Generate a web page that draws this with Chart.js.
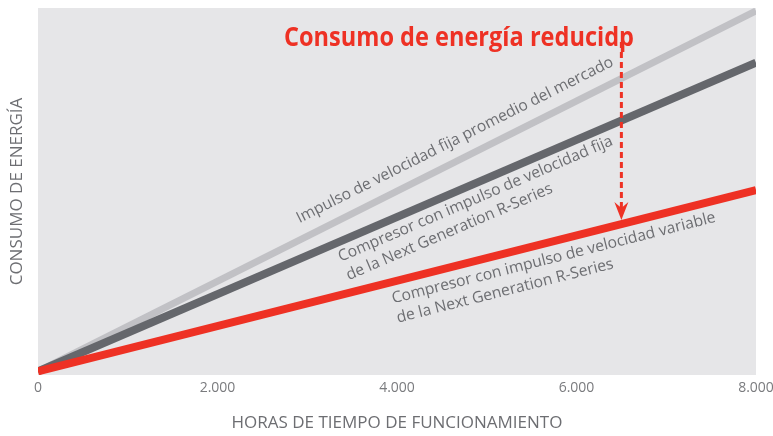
<!DOCTYPE html>
<html><head><meta charset="utf-8">
<script src="https://cdn.jsdelivr.net/npm/chart.js@4.4.1/dist/chart.umd.min.js"></script>
<style>html,body{margin:0;padding:0;background:#fff}canvas{display:block}</style>
</head><body>
<canvas id="c" width="773" height="436"></canvas>
<script>
// ---- data ----
const hours = [0, 8000];
const marketFixed = [0, 98.2];      // Impulso de velocidad fija promedio del mercado
const rSeriesFixed = [0, 84.1];     // Compresor con impulso de velocidad fija
const rSeriesVariable = [0, 49.4];  // Compresor con impulso de velocidad variable
const xTickValues = [0, 2000, 4000, 6000, 8000];
const xTickLabels = ['0', '2.000', '4.000', '6.000', '8.000'];
const headline = 'Consumo de energía reducidp';
const xAxisTitle = 'HORAS DE TIEMPO DE FUNCIONAMIENTO';
const yAxisTitle = 'CONSUMO DE ENERGÍA';
const labelMarket = ['Impulso de velocidad fija promedio del mercado'];
const labelFixed = ['Compresor con impulso de velocidad fija', 'de la Next Generation R-Series'];
const labelVariable = ['Compresor con impulso de velocidad variable', 'de la Next Generation R-Series'];
const arrowHour = 6500;

const RED = '#ee3124', DARK = '#65676c', LIGHT = '#c1c1c5', TXT = '#6d6e72', BG = '#e6e6e8';
const pts = (ys) => hours.map((h, i) => ({x: h, y: ys[i]}));

function lineInfo(chart, idx, xVal) {
  const meta = chart.getDatasetMeta(idx);
  const p0 = meta.data[0], p1 = meta.data[meta.data.length - 1];
  const px = chart.scales.x.getPixelForValue(xVal);
  const t = (px - p0.x) / (p1.x - p0.x);
  return {x: px, y: p0.y + t * (p1.y - p0.y), a: Math.atan2(p0.y - p1.y, p1.x - p0.x)};
}

const annot = {
  id: 'annot',
  beforeDraw(chart) {
    const {ctx, chartArea: ca} = chart;
    ctx.save(); ctx.fillStyle = BG;
    ctx.fillRect(ca.left, ca.top, ca.right - ca.left, ca.bottom - ca.top);
    ctx.restore();
  },
  afterDatasetsDraw(chart) {
    const {ctx, chartArea: ca} = chart;
    const specs = [
      {ds: 2, at: 2990, off: -15, lines: labelMarket},
      {ds: 1, at: 3290, off: 19, lines: labelFixed},
      {ds: 0, at: 3900, off: 21, lines: labelVariable}
    ];
    ctx.save();
    ctx.font = '15.7px "Open Sans"';
    ctx.fillStyle = TXT;
    ctx.textBaseline = 'alphabetic';
    ctx.textAlign = 'left';
    specs.forEach(s => {
      const L = lineInfo(chart, s.ds, s.at);
      ctx.save();
      ctx.translate(L.x, L.y);
      ctx.rotate(-L.a);
      s.lines.forEach((t, i) => ctx.fillText(t, 0, s.off + i * 20));
      ctx.restore();
    });
    // arrow
    const R = lineInfo(chart, 0, arrowHour);
    const ax = R.x, tipY = R.y - 4, topY = ca.top + 34;
    ctx.strokeStyle = RED; ctx.fillStyle = RED; ctx.lineWidth = 3;
    ctx.setLineDash([6, 4]);
    ctx.beginPath(); ctx.moveTo(ax, topY); ctx.lineTo(ax, tipY - 12); ctx.stroke();
    ctx.setLineDash([]);
    ctx.beginPath();
    ctx.moveTo(ax, tipY); ctx.lineTo(ax - 7, tipY - 18); ctx.lineTo(ax, tipY - 12); ctx.lineTo(ax + 7, tipY - 18);
    ctx.closePath(); ctx.fill();
    // headline (fit to reference width)
    ctx.font = 'bold 27px "Open Sans"';
    ctx.fillStyle = RED;
    const w = ctx.measureText(headline).width;
    ctx.translate(284, 46);
    ctx.scale(350 / w, 1);
    ctx.fillText(headline, 0, 0);
    ctx.restore();
  }
};

new Chart(document.getElementById('c'), {
  type: 'line',
  data: {
    datasets: [
      {data: pts(rSeriesVariable), borderColor: RED, borderWidth: 8, pointRadius: 0},
      {data: pts(rSeriesFixed), borderColor: DARK, borderWidth: 8, pointRadius: 0},
      {data: pts(marketFixed), borderColor: LIGHT, borderWidth: 7, pointRadius: 0}
    ]
  },
  options: {
    responsive: false, animation: false, devicePixelRatio: 1,
    layout: {padding: {top: 8, right: 17, left: 0, bottom: 0}},
    plugins: {legend: {display: false}, tooltip: {enabled: false}},
    scales: {
      x: {
        type: 'linear', min: 0, max: 8000,
        afterFit: s => { s.height = 61; s.paddingLeft = 0; s.paddingRight = 0; },
        afterBuildTicks: s => { s.ticks = xTickValues.map(v => ({value: v})); },
        ticks: {callback: (v) => xTickLabels[xTickValues.indexOf(v)], color: '#7a7b7e', font: {family: 'Open Sans', size: 14}, padding: 5, maxRotation: 0, autoSkip: false},
        grid: {display: false, drawTicks: false},
        border: {display: false},
        title: {display: true, text: xAxisTitle, color: TXT, font: {family: 'Open Sans', size: 17}, padding: {top: 0, bottom: 3}}
      },
      y: {
        min: -1, max: 99,
        afterFit: s => { s.width = 38; s.paddingTop = 0; s.paddingBottom = 0; },
        ticks: {display: false},
        grid: {display: false, drawTicks: false},
        border: {display: false},
        title: {display: true, text: yAxisTitle, color: TXT, font: {family: 'Open Sans', size: 17}, padding: {top: 7, bottom: 0}}
      }
    }
  },
  plugins: [annot]
});
</script>
</body></html>
